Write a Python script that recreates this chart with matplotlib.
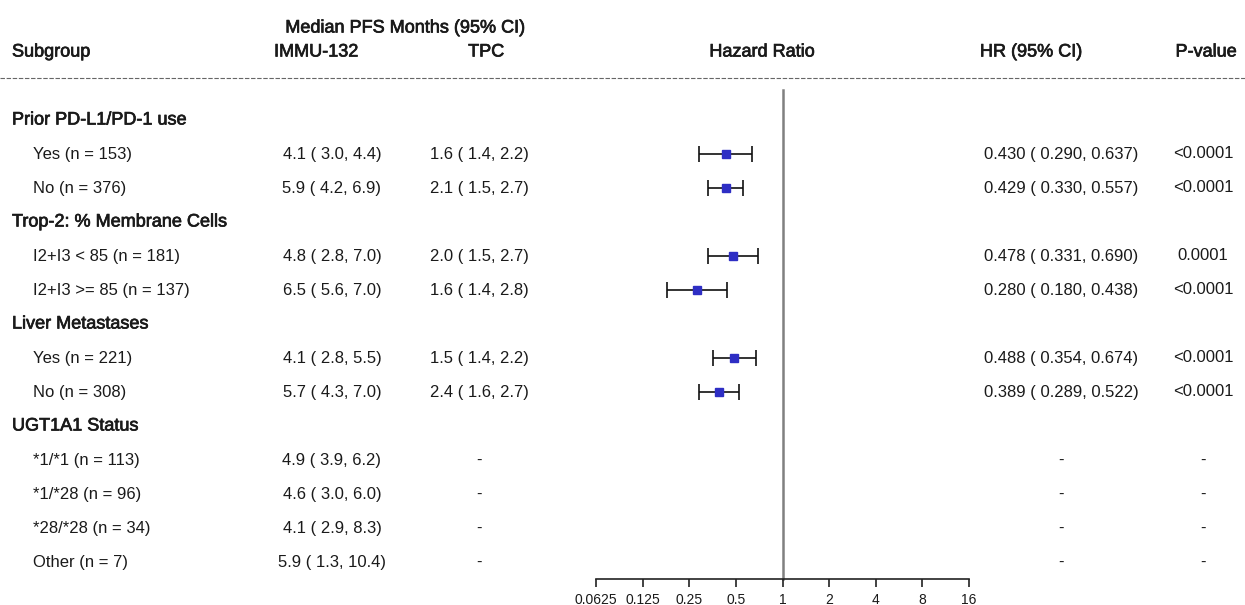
import matplotlib
matplotlib.use("Agg")
import matplotlib.pyplot as plt
import matplotlib.patheffects as pe
import numpy as np

plt.rcParams['font.family'] = ['Liberation Sans', 'DejaVu Sans']

# data
row_labels = ["Prior PD-L1/PD-1 use", "Yes (n = 153)", "No (n = 376)",
              "Trop-2: % Membrane Cells", "I2+I3 < 85 (n = 181)", "I2+I3 >= 85 (n = 137)",
              "Liver Metastases", "Yes (n = 221)", "No (n = 308)",
              "UGT1A1 Status", "*1/*1 (n = 113)", "*1/*28 (n = 96)",
              "*28/*28 (n = 34)", "Other (n = 7)"]
immu = [None, "4.1 ( 3.0, 4.4)", "5.9 ( 4.2, 6.9)",
        None, "4.8 ( 2.8, 7.0)", "6.5 ( 5.6, 7.0)",
        None, "4.1 ( 2.8, 5.5)", "5.7 ( 4.3, 7.0)",
        None, "4.9 ( 3.9, 6.2)", "4.6 ( 3.0, 6.0)", "4.1 ( 2.9, 8.3)", "5.9 ( 1.3, 10.4)"]
tpc = [None, "1.6 ( 1.4, 2.2)", "2.1 ( 1.5, 2.7)",
       None, "2.0 ( 1.5, 2.7)", "1.6 ( 1.4, 2.8)",
       None, "1.5 ( 1.4, 2.2)", "2.4 ( 1.6, 2.7)",
       None, "-", "-", "-", "-"]
hr = [None, 0.430, 0.429, None, 0.478, 0.280, None, 0.488, 0.389, None, None, None, None, None]
hr_lo = [None, 0.290, 0.330, None, 0.331, 0.180, None, 0.354, 0.289, None, None, None, None, None]
hr_hi = [None, 0.637, 0.557, None, 0.690, 0.438, None, 0.674, 0.522, None, None, None, None, None]
pval = [None, "<0.0001", "<0.0001", None, "0.0001", "<0.0001",
        None, "<0.0001", "<0.0001", None, "-", "-", "-", "-"]
xticks = [0.0625, 0.125, 0.25, 0.5, 1, 2, 4, 8, 16]
xtick_labels = ["0.0625", "0.125", "0.25", "0.5", "1", "2", "4", "8", "16"]

W, H = 1245, 605
fig = plt.figure(figsize=(W / 100, H / 100), dpi=100)

# text layer in pixel coordinates
ax = fig.add_axes([0, 0, 1, 1])
ax.set_xlim(0, W)
ax.set_ylim(H, 0)
ax.axis("off")

row_y = [120 + 34 * i for i in range(len(row_labels))]
ink = "#1a1a1a"
body = dict(fontsize=12, va="center", color=ink)
head = dict(fontsize=13, va="center", color=ink,
            path_effects=[pe.withStroke(linewidth=0.5, foreground=ink)])

ax.text(405, 28, "Median PFS Months (95% CI)", ha="center", **head)
ax.text(12, 52, "Subgroup", ha="left", **head)
ax.text(316, 52, "IMMU-132", ha="center", **head)
ax.text(486, 52, "TPC", ha="center", **head)
ax.text(762, 52, "Hazard Ratio", ha="center", **head)
ax.text(1031, 52, "HR (95% CI)", ha="center", **head)
ax.text(1206, 52, "P-value", ha="center", **head)
ax.plot([0, W], [78, 78], color="#666666", lw=0.8, ls=(0, (4, 1.5)))

for i, lab in enumerate(row_labels):
    y = row_y[i]
    if immu[i] is None:
        ax.text(12, y, lab, ha="left", **head)
        continue
    ax.text(33, y, lab, ha="left", **body)
    ax.text(332, y, immu[i], ha="center", **body)
    ax.text(479, y, tpc[i], ha="center", **body)
    if hr[i] is not None:
        ax.text(1061, y, f"{hr[i]:.3f} ( {hr_lo[i]:.3f}, {hr_hi[i]:.3f})", ha="center", **body)
    else:
        ax.text(1061, y, "-", ha="center", **body)
    ax.text(1203, y, pval[i], ha="center", **body)

# forest plot
fx = fig.add_axes([596 / W, 0, (969 - 596) / W, 1])
fx.patch.set_alpha(0)
fx.set_xscale("log", base=2)
fx.set_xlim(xticks[0], xticks[-1])
fx.set_ylim(H, 0)
for s in ["left", "right", "top"]:
    fx.spines[s].set_visible(False)
fx.spines["bottom"].set_position(("data", 579))
fx.spines["bottom"].set_linewidth(1.2)
fx.spines["bottom"].set_color("#222222")
fx.set_yticks([])
fx.set_xticks(xticks)
fx.set_xticklabels(xtick_labels, fontsize=10, color=ink)
fx.xaxis.set_minor_locator(matplotlib.ticker.NullLocator())
fx.tick_params(axis="x", direction="out", length=6, width=1.2, pad=4, color="#222222")

fx.plot([1, 1], [90, 579], color="#808080", lw=1.8, zorder=1)

idx = [i for i in range(len(hr)) if hr[i] is not None]
est = np.array([hr[i] for i in idx])
lo = np.array([hr_lo[i] for i in idx])
hi = np.array([hr_hi[i] for i in idx])
ys = np.array([row_y[i] for i in idx])
fx.errorbar(est, ys, xerr=[est - lo, hi - est], fmt="s", color="#2e2ec4",
            ecolor="#111111", elinewidth=1.2, capsize=5.8, capthick=1.2,
            markersize=5.5, zorder=3)

fig.savefig("out.png", dpi=100)
